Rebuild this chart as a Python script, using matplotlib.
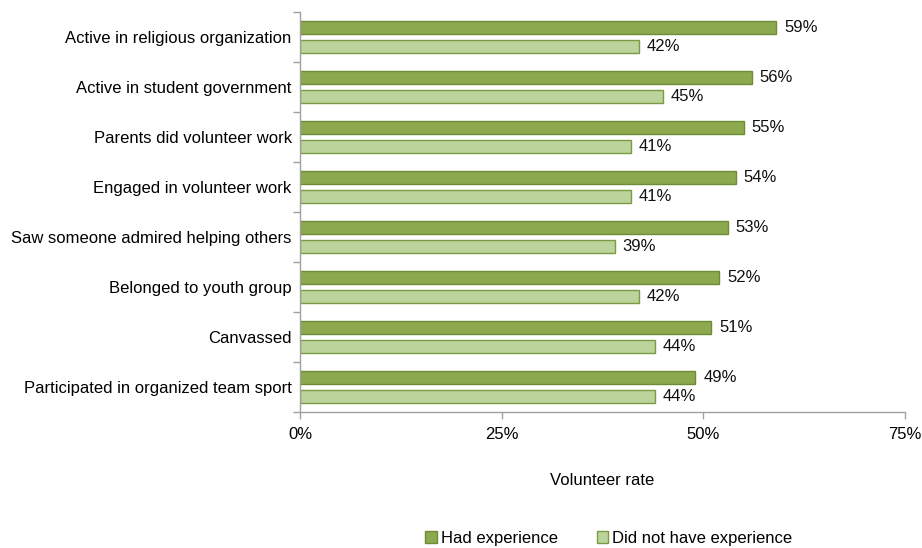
import numpy as np
import matplotlib
import matplotlib.pyplot as plt
from matplotlib.ticker import FixedLocator, PercentFormatter

matplotlib.use('Agg')
plt.rcParams['font.family'] = ['Liberation Sans', 'DejaVu Sans']

categories = [
    "Active in religious organization",
    "Active in student government",
    "Parents did volunteer work",
    "Engaged in volunteer work",
    "Saw someone admired helping others",
    "Belonged to youth group",
    "Canvassed",
    "Participated in organized team sport",
]
had_experience = [59, 56, 55, 54, 53, 52, 51, 49]
no_experience = [42, 45, 41, 41, 39, 42, 44, 44]
x_ticks = [0, 25, 50, 75]

dark_green = "#8CA94F"
dark_edge = "#6E8C34"
light_green = "#BDD39C"
light_edge = "#7B9B45"
axis_grey = "#A0A0A0"
fs = 12

fig = plt.figure(figsize=(9.22, 5.48), dpi=100)
ax = fig.add_axes([300 / 922, 1 - 412 / 548, 605 / 922, 400 / 548])

y = np.arange(len(categories))
bar_h = 0.26
off = 0.195

ax.barh(y - off, had_experience, height=bar_h, color=dark_green,
        edgecolor=dark_edge, linewidth=1, label="Had experience")
ax.barh(y + off, no_experience, height=bar_h, color=light_green,
        edgecolor=light_edge, linewidth=1, label="Did not have experience")

for yi, v in zip(y - off, had_experience):
    ax.text(v + 1.0, yi, f"{v}%", va="center", ha="left", fontsize=fs, color="#111111")
for yi, v in zip(y + off, no_experience):
    ax.text(v + 1.0, yi, f"{v}%", va="center", ha="left", fontsize=fs, color="#111111")

ax.set_xlim(0, 75)
ax.set_ylim(len(categories) - 0.5, -0.5)

# category labels sit between boundary ticks
ax.set_yticks(y)
ax.set_yticklabels(categories, fontsize=fs)
ax.tick_params(axis="y", which="major", length=0, pad=6)
ax.yaxis.set_minor_locator(FixedLocator(np.arange(-0.5, len(categories), 1)))
ax.tick_params(axis="y", which="minor", length=5, color=axis_grey, width=1)

ax.xaxis.set_major_locator(FixedLocator(x_ticks))
ax.xaxis.set_major_formatter(PercentFormatter(decimals=0))
ax.tick_params(axis="x", length=5, color=axis_grey, width=1, labelsize=fs, pad=6)

for side in ("top", "right"):
    ax.spines[side].set_visible(False)
for side in ("left", "bottom"):
    ax.spines[side].set_color(axis_grey)
    ax.spines[side].set_linewidth(1)

ax.set_xlabel("Volunteer rate", fontsize=fs, labelpad=22)

fig.legend(loc="center", bbox_to_anchor=(609 / 922, 1 - 538 / 548), ncol=2,
           frameon=False, fontsize=fs, handlelength=0.7, handleheight=0.7,
           handletextpad=0.25, columnspacing=2.3)

fig.savefig("out.png", dpi=100)
